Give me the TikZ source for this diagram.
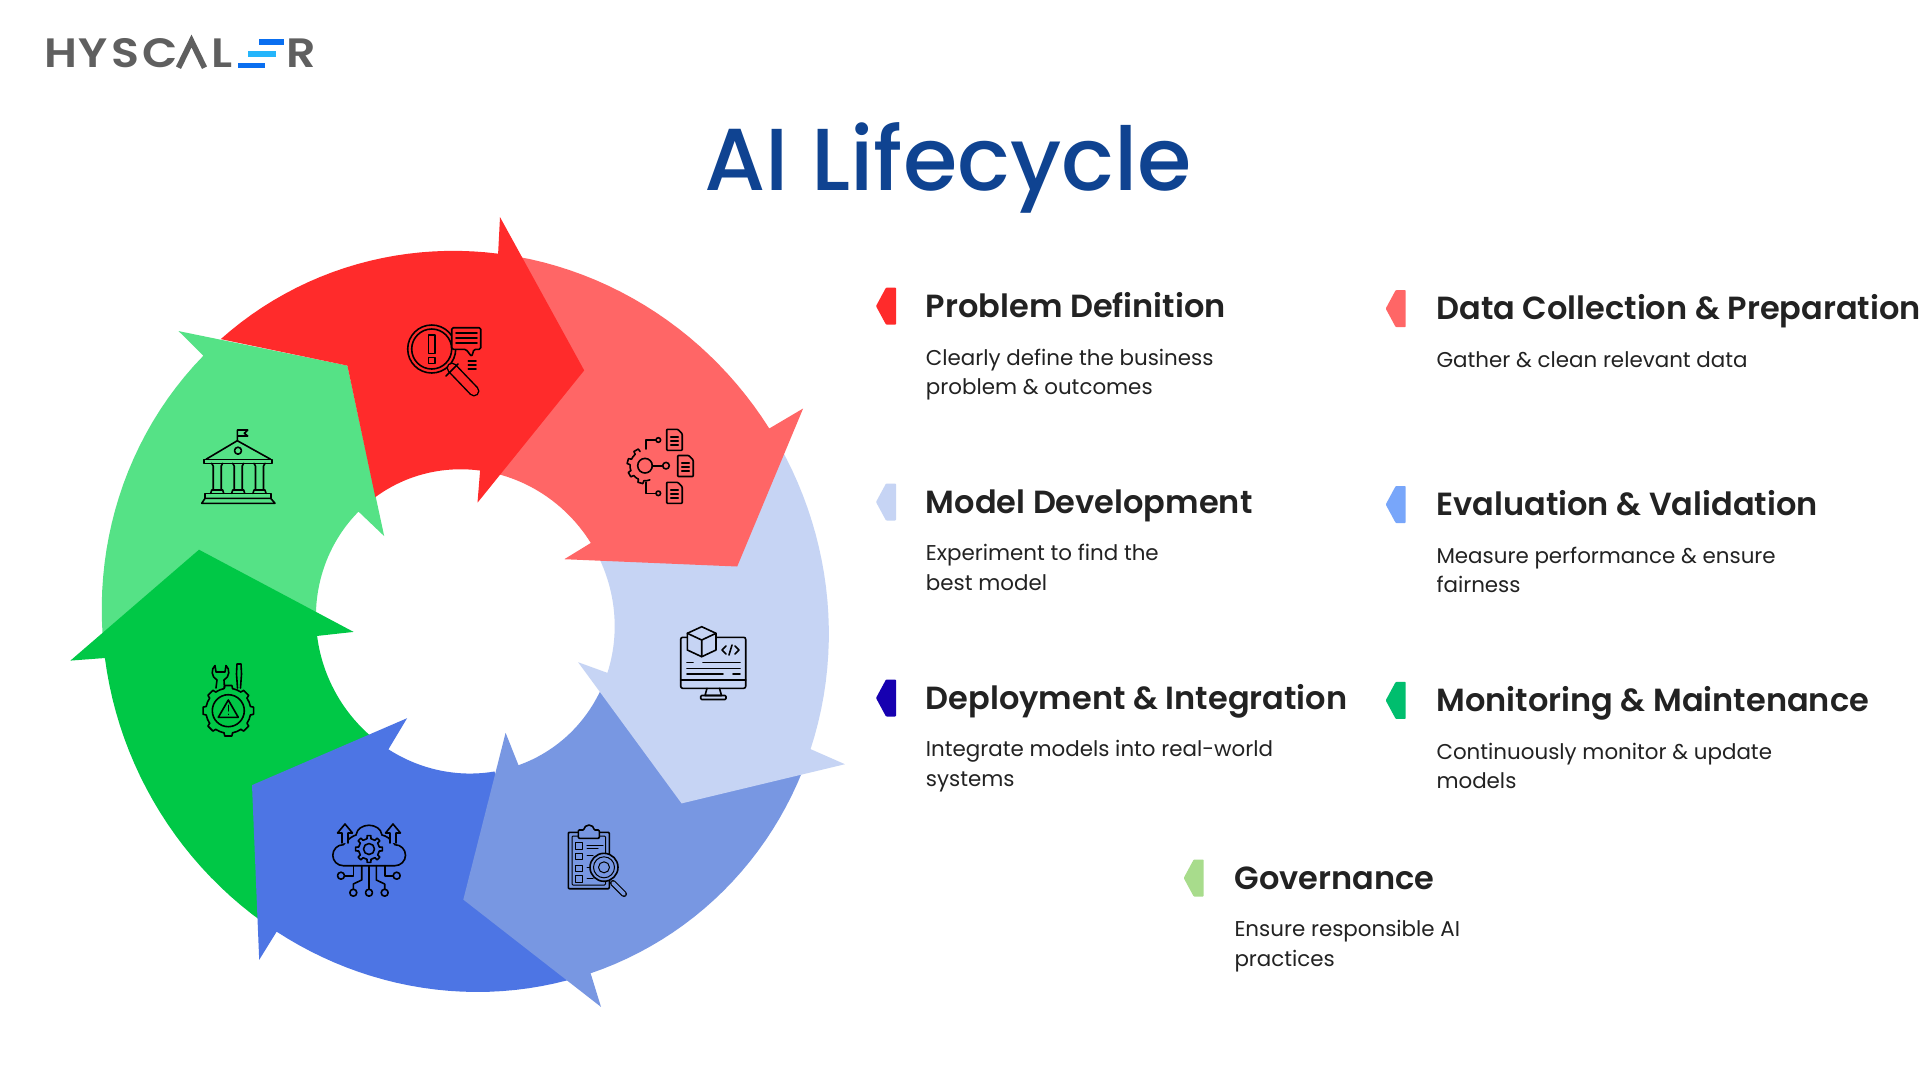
\documentclass[tikz,border=0pt]{standalone}
\usepackage{fontspec}
\setmainfont{Poppins}
\newfontfamily\headfont{Poppins SemiBold}
\newfontfamily\titlefont{Poppins Medium}
\newfontfamily\logofont[FakeStretch=1.12]{Poppins SemiBold}
\definecolor{redarrow}{HTML}{FF2B2B}
\definecolor{coralarrow}{HTML}{FF6666}
\definecolor{paleblue}{HTML}{C6D4F4}
\definecolor{midblue}{HTML}{7897E2}
\definecolor{deepblue}{HTML}{4D75E4}
\definecolor{deepgreen}{HTML}{00C846}
\definecolor{palegreen}{HTML}{55E286}
\definecolor{titleblue}{HTML}{0F4391}
\definecolor{logogrey}{HTML}{5F5F5F}
\definecolor{logoblue}{HTML}{0A6FF0}
\definecolor{logocyan}{HTML}{25B5FB}
\definecolor{inkdark}{HTML}{222222}
\newcommand{\cogwheel}[3]{%
  \begin{scope}[shift={#1}]
    \foreach \a in {#3} {
      \draw[iconline] (\a-11:#2) -- (\a-8:#2+3) -- (\a+8:#2+3) -- (\a+11:#2)
        arc[start angle=\a+11, end angle=\a+34, radius=#2];
    }
  \end{scope}}
\newcommand{\docsheet}[1]{%
  \draw[iconline,rounded corners=0.8pt] #1 -- ++(11,0) -- ++(4.5,-4.5) -- ++(0,-16.5) -- ++(-15.5,0) -- cycle;
  \begin{scope}[shift={#1}]
    \foreach \yy in {-7.5,-11.5,-15.5} {
      \draw[iconline] (4,\yy) -- (11.5,\yy);
    }
  \end{scope}}
\begin{document}
\begin{tikzpicture}[x=1pt, y=1pt,
    declare function = {
      orad(\p) = 374/sqrt(cos(\p-120)^2+1.0793*sin(\p-120)^2);
      irad(\p) = 153.5/sqrt(cos(\p-120)^2+1.0757*sin(\p-120)^2);
    },
    iconline/.style = {draw=black, line width=1.6pt, line cap=round, line join=round},
    headtext/.style = {anchor=base west, inner sep=0pt, text=inkdark, font=\headfont\fontsize{32}{38}\selectfont},
    bodytext/.style = {anchor=base west, inner sep=0pt, text=inkdark, align=left, font=\fontsize{21.4}{29.4}\selectfont},
    logotext/.style = {anchor=base west, inner sep=0pt, text=logogrey, font=\logofont\fontsize{41}{41}\selectfont},
    ringplot/.style = {samples=24, variable=\p},
  ]
  \useasboundingbox (0,-1080) rectangle (1920,0);
  \fill[white] (0,-1080) rectangle (1920,0);

  \begin{scope}[shift={(465.3,-621.4)}]
    \fill[palegreen] plot[ringplot, domain=183.7:134.6] (\p:{orad(\p)})
      -- (-286.7,290.3) -- (-117.9,255.8) -- (-81.1,85.3)
      -- plot[ringplot, domain=134.2:177] (\p:{irad(\p)}) -- cycle;
    \fill[deepgreen] plot[ringplot, domain=236:185.8] (\p:{orad(\p)})
      -- (-394.9,-39.2) -- (-266.3,71.7) -- (-111.7,-10.5)
      -- plot[ringplot, domain=185.6:231] (\p:{irad(\p)}) -- cycle;
    \fill[deepblue] plot[ringplot, domain=-74:-121.3] (\p:{orad(\p)})
      -- (-206.1,-338.4) -- (-213.3,-163.7) -- (-58.2,-96.8)
      -- plot[ringplot, domain=-121:-79] (\p:{irad(\p)}) -- cycle;
    \fill[midblue] plot[ringplot, domain=-24:-70.4] (\p:{orad(\p)})
      -- (135.7,-385.5) -- (-2,-278.2) -- (40.3,-111.4)
      -- plot[ringplot, domain=-69.7:-26] (\p:{irad(\p)}) -- cycle;
    \fill[paleblue] plot[ringplot, domain=29:-20.3] (\p:{orad(\p)})
      -- (379.6,-142.8) -- (216.3,-182) -- (112.8,-40.8)
      -- plot[ringplot, domain=-19.9:25] (\p:{irad(\p)}) -- cycle;
    \fill[coralarrow] plot[ringplot, domain=82:32.4] (\p:{orad(\p)})
      -- (337.8,212.9) -- (271.9,54.9) -- (99,62.2)
      -- plot[ringplot, domain=32:78] (\p:{irad(\p)}) -- cycle;
    \fill[redarrow] plot[ringplot, domain=130.9:84.9] (\p:{orad(\p)})
      -- (34.7,404.3) -- (118.9,251) -- (12.2,118.7)
      -- plot[ringplot, domain=84.4:125.9] (\p:{irad(\p)})
      -- (-117.9,255.8) -- cycle;
  \end{scope}

  % magnifier with speech box
  \draw[iconline] (431.7,-349) circle (24);
  \draw[iconline] (431.7,-349) circle (20);
  \draw[iconline] (428.3,-335) rectangle (435,-353.3);
  \draw[iconline] (428.3,-357.3) rectangle (435,-363.3);
  \draw[black, line width=11pt, line cap=round] (452,-368) -- (474,-391);
  \draw[redarrow, line width=8pt, line cap=round] (452,-368) -- (474,-391);
  \draw[iconline] (446,-376) -- (458,-364);
  \draw[iconline, fill=redarrow, rounded corners=1.5pt] (451.7,-327.7) -- (480.7,-327.7) -- (480.7,-349.3) -- (474,-349.3) -- (471.7,-356.7) -- (466,-349.3) -- (451.7,-349.3) -- cycle;
  \foreach \yy in {-333,-338,-343} {
    \draw[iconline] (456,\yy) -- (477,\yy);
  }
  \foreach \yy in {-361,-365,-369} {
    \draw[iconline] (468.3,\yy) -- (476,\yy);
  }

  % gear with documents
  \cogwheel{(645,-465.7)}{15}{120,165,210,255}
  \draw[iconline] (645,-465.7) circle (7.3);
  \draw[iconline] (652.3,-465.7) -- (662.7,-465.7);
  \draw[iconline] (666,-465.7) circle (3.3);
  \draw[iconline] (646,-449) -- (646,-440) -- (656,-440);
  \draw[iconline] (658.3,-440) circle (2.3);
  \draw[iconline] (646,-482) -- (646,-493.3) -- (656,-493.3);
  \draw[iconline] (658.3,-493.3) circle (2.3);
  \docsheet{(666.7,-429.3)}
  \docsheet{(677.7,-455.5)}
  \docsheet{(666.7,-482.3)}

  % monitor with cube
  \draw[iconline, rounded corners=2pt] (680.7,-637.3) rectangle (745.7,-688.3);
  \draw[iconline] (680.7,-680) -- (745.7,-680);
  \draw[iconline] (707,-688.3) -- (705,-695.5) -- (721.5,-695.5) -- (719.5,-688.3);
  \draw[iconline, rounded corners=1pt] (700.7,-695.5) rectangle (726,-699.5);
  \draw[iconline, fill=paleblue] (701.7,-626.7) -- (716,-633.3) -- (716,-650) -- (701.7,-656.7) -- (687.3,-650) -- (687.3,-633.3) -- cycle;
  \draw[iconline] (687.3,-633.3) -- (701.7,-640) -- (716,-633.3) (701.7,-640) -- (701.7,-656.7);
  \draw[iconline] (726,-646) -- (722,-650) -- (726,-654);
  \draw[iconline] (735,-646) -- (739,-650) -- (735,-654);
  \draw[iconline] (729,-655) -- (732,-645);
  \draw[iconline] (687,-662.3) -- (693,-662.3) (703,-662.3) -- (740,-662.3);
  \draw[iconline] (687,-668.3) -- (740,-668.3);
  \draw[iconline] (687,-674) -- (723,-674) (733,-674) -- (740,-674);

  % clipboard with magnifier
  \draw[iconline, rounded corners=1pt] (568.3,-832.3) rectangle (609.3,-888.7);
  \draw[iconline, line width=1pt, rounded corners=1pt] (572,-836) rectangle (605.5,-885);
  \draw[iconline, fill=midblue, rounded corners=1pt] (578.3,-838.3) -- (578.3,-830) -- (584,-830) arc[start angle=180, end angle=0, radius=5] -- (599.3,-830) -- (599.3,-838.3) -- cycle;
  \foreach \yy in {-842.7,-853.3,-865,-875.5} {
    \draw[iconline, line width=1pt] (575.7,\yy) rectangle ++(7,-6.5);
    \draw[iconline, line width=1pt] (587,\yy-2.5) -- ++(6,0);
  }
  \draw[iconline, line width=1pt] (587,-845.2) -- (603,-845.2) (587,-848.5) -- (598,-848.5);
  \draw[black, line width=6pt, line cap=round] (613,-883) -- (624,-894);
  \draw[midblue, line width=3.6pt, line cap=round] (613,-883) -- (624,-894);
  \draw[iconline, fill=midblue] (604,-867.3) circle (14);
  \draw[iconline, line width=1pt] (604,-867.3) circle (10.5);
  \draw[iconline, line width=1pt] (604,-867.3) circle (5.5);

  % cloud with circuit
  \draw[iconline] (343.3,-865.7) arc[start angle=270, end angle=90, radius=10.5]
    .. controls (349,-838) and (353,-836) .. (356,-835)
    .. controls (358,-822) and (380,-822) .. (382,-835)
    .. controls (386,-836) and (390,-838) .. (395,-844.7)
    arc[start angle=90, end angle=-90, radius=10.5] -- cycle;
  \draw[iconline, fill=deepblue] (342,-843) -- (342,-833) -- (337.5,-833) -- (345,-824) -- (352.5,-833) -- (348,-833) -- (348,-843);
  \draw[iconline, fill=deepblue] (390,-843) -- (390,-833) -- (385.5,-833) -- (393,-824) -- (400.5,-833) -- (396,-833) -- (396,-843);
  \cogwheel{(369,-849)}{10.5}{0,45,90,135,180,225,270,315}
  \draw[iconline] (369,-849) circle (5.5);
  \draw[iconline] (353.3,-865.7) -- (353.3,-875.7) -- (344.5,-875.7);
  \draw[iconline] (341,-875.7) circle (3.5);
  \draw[iconline] (384.7,-865.7) -- (384.7,-875.7) -- (393.2,-875.7);
  \draw[iconline] (396.7,-875.7) circle (3.5);
  \draw[iconline] (361.7,-865.7) -- (361.7,-880) -- (353.3,-884) -- (353.3,-889.2);
  \draw[iconline] (353.3,-892.7) circle (3.5);
  \draw[iconline] (376.3,-865.7) -- (376.3,-880) -- (384.7,-884) -- (384.7,-889.2);
  \draw[iconline] (384.7,-892.7) circle (3.5);
  \draw[iconline] (369,-865.7) -- (369,-889.2);
  \draw[iconline] (369,-892.7) circle (3.5);

  % gear with warning and tools
  \cogwheel{(228.3,-710.7)}{22.5}{0,45,90,135,180,225,270,315}
  \draw[iconline] (228.3,-710.7) circle (16);
  \draw[iconline] (228.3,-700) -- (218.3,-717.3) -- (238.3,-717.3) -- cycle;
  \draw[iconline, line width=1pt] (228.3,-705) -- (228.3,-711) (228.3,-714) -- (228.3,-714.5);
  \draw[iconline] (216,-688) -- (217,-680) .. controls (211,-677) and (211,-669) .. (215,-665.5) -- (216,-672) -- (225,-672) -- (226,-665.5) .. controls (230,-669) and (230,-677) .. (224,-680) -- (224.5,-688);
  \draw[iconline] (237.5,-688) -- (236.5,-674) -- (237,-664) -- (241,-664) -- (241.5,-674) -- (240.5,-688);

  % building with flag
  \draw[iconline] (237.3,-440.7) -- (237.3,-430) -- (247.7,-430) -- (244.3,-433.3) -- (247.7,-436) -- (237.3,-436);
  \draw[iconline] (206,-459.3) -- (237.3,-440.7) -- (270.7,-459.3);
  \draw[iconline] (238,-450.7) circle (3.5);
  \draw[iconline] (204,-459.3) rectangle (271.7,-463.3);
  \foreach \xx in {211.7,232.7,254} {
    \draw[iconline] (\xx,-463.3) -- (\xx+1.5,-466) -- (\xx+1.5,-490) (\xx+9.5,-490) -- (\xx+9.5,-466) -- (\xx+11,-463.3);
    \draw[iconline] (\xx-1,-493.3) -- (\xx,-490) -- (\xx+11,-490) -- (\xx+12,-493.3);
  }
  \draw[iconline] (205,-493.3) rectangle (270.7,-498.3);
  \draw[iconline] (201.7,-503.3) -- (205,-498.3) -- (270.7,-498.3) -- (275,-503.3) -- cycle;

  % logo
  \node[logotext] (logoh) at (44,-67.7) {H};
  \node[logotext] (logoy) at (78,-67.7) {Y};
  \node[logotext] (logos) at (111.5,-67.7) {S};
  \node[logotext] (logoc) at (142,-67.7) {C};
  \draw[logogrey, line width=5.6pt] (178.5,-67.7) -- (191.5,-41) -- (204.5,-67.7);
  \node[logotext] (logol) at (211,-67.7) {L};
  \fill[logoblue] (259.3,-39.3) rectangle (284,-45);
  \fill[logocyan] (248.3,-51) rectangle (276,-56.7);
  \fill[logoblue] (238.3,-62.7) rectangle (265,-67.7);
  \node[logotext] (logor) at (286.5,-67.7) {R};

  \node[anchor=base, inner sep=0pt, text=titleblue, font=\titlefont\fontsize{88}{100}\selectfont] (title) at (948,-190) {AI Lifecycle};

  \foreach \xx/\yy/\col in {896/306.1/FF2B2B, 1405.7/308.6/FF6666, 896/502/C6D4F4, 1405.7/504.5/78A6FA, 896/698/1600B0, 1405.7/700.4/00BE6E, 1203.7/878/A8DC8C} {
    \definecolor{tabcolor}{HTML}{\col}
    \fill[tabcolor, rounded corners=0.8pt] (\xx,-\yy+18.5) -- ++(-10,0) -- ++(-10,-18.5) -- ++(10,-18.5) -- ++(10,0) -- cycle;
  }

  \node[headtext] (probhead) at (925.7,-317.7) {Problem Definition};
  \node[bodytext] (probbody) at (925.7,-394.4) {Clearly define the business\\problem \& outcomes};
  \node[headtext] (datahead) at (1436.3,-319.3) {Data Collection \& Preparation};
  \node[bodytext] (databody) at (1436.3,-367.4) {Gather \& clean relevant data};
  \node[headtext] (modelhead) at (925.7,-513.7) {Model Development};
  \node[bodytext] (modelbody) at (925.7,-590.3) {Experiment to find the\\best model};
  \node[headtext] (evalhead) at (1436.3,-515.2) {Evaluation \& Validation};
  \node[bodytext] (evalbody) at (1436.3,-592.7) {Measure performance \& ensure\\fairness};
  \node[headtext] (dephead) at (925.7,-709.7) {Deployment \& Integration};
  \node[bodytext] (depbody) at (925.7,-786.2) {Integrate models into real-world\\systems};
  \node[headtext] (monhead) at (1436.3,-711.1) {Monitoring \& Maintenance};
  \node[bodytext] (monbody) at (1436.3,-788.6) {Continuously monitor \& update\\models};
  \node[headtext] (govhead) at (1234.3,-889.7) {Governance};
  \node[bodytext] (govbody) at (1234.3,-966.2) {Ensure responsible AI\\practices};
\end{tikzpicture}
\end{document}
